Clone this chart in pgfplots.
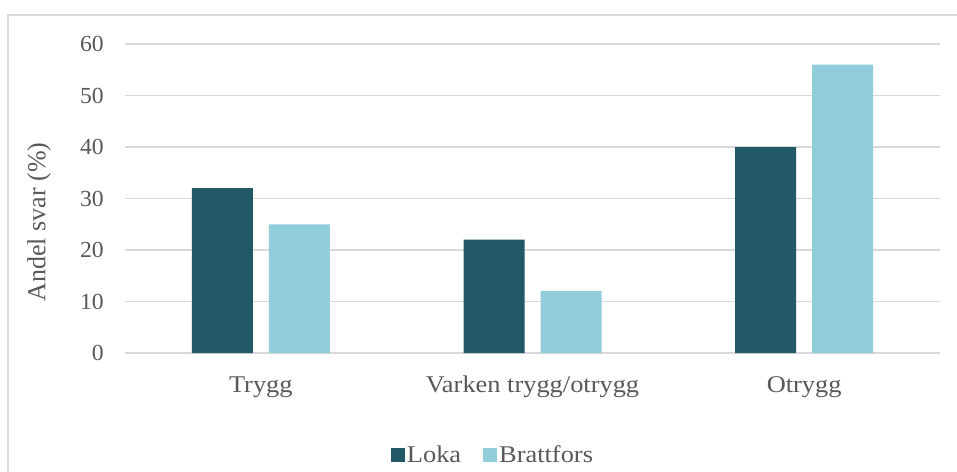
\documentclass[border=0pt]{standalone}
\usepackage{fontspec}
\setmainfont{Liberation Serif}
\newfontfamily\wide[FakeStretch=1.1]{Liberation Serif}
\newfontfamily\wideb[FakeStretch=1.03]{Liberation Serif}
\usepackage{pgfplots}
\pgfplotsset{compat=1.18}
\definecolor{loka}{HTML}{215968}
\definecolor{bratt}{HTML}{92CDDC}
\definecolor{gridc}{HTML}{D9D9D9}
\definecolor{txt}{HTML}{595959}
\begin{document}
\begin{tikzpicture}
\useasboundingbox (0,0) rectangle (957pt,-471pt);
\fill[white] (0,0) rectangle (957pt,-471pt);
\draw[gridc, line width=1.5pt] (8pt,-480pt) -- (8pt,-15pt) -- (970pt,-15pt);
\begin{axis}[
  at={(125pt,-353pt)}, anchor=south west,
  scale only axis, width=815pt, height=309pt,
  ybar=16pt, bar width=61pt,
  xmin=-0.5, xmax=2.5, ymin=0, ymax=60,
  ytick={0,10,...,60},
  xtick={0,1,2},
  xticklabels={Trygg, Varken trygg/otrygg, Otrygg},
  axis line style={draw=none},
  major tick length=0pt,
  ymajorgrids, grid style={gridc, line width=1.5pt},
  clip=false,
  yticklabel style={font=\fontsize{23}{26}\wideb, text=txt, inner sep=0pt, anchor=east, xshift=-21pt},
  /pgf/number format/assume math mode=true,
  xticklabel style={font=\fontsize{24}{27}\wide, text=txt, inner sep=0pt, anchor=base, yshift=-39pt},
  ylabel={Andel svar (\%)},
  ylabel style={font=\fontsize{26}{30}\selectfont, text=txt, at={(axis description cs:-0.1055,0.424)}, anchor=center},
  legend columns=2,
  legend style={at={(axis description cs:0.4515,-0.33)}, anchor=center, draw=none, fill=none,
    font=\fontsize{24}{27}\wide, text=txt, /tikz/every even column/.append style={column sep=20pt}},
  legend image code/.code={\fill[#1] (0pt,-7pt) rectangle (14pt,7pt);},
]
\addplot[fill=loka, draw=none] coordinates {(0,32) (1,22) (2,40)};
\addplot[fill=bratt, draw=none] coordinates {(0,25) (1,12) (2,56)};
\legend{Loka, Brattfors}
\end{axis}
\end{tikzpicture}
\end{document}
